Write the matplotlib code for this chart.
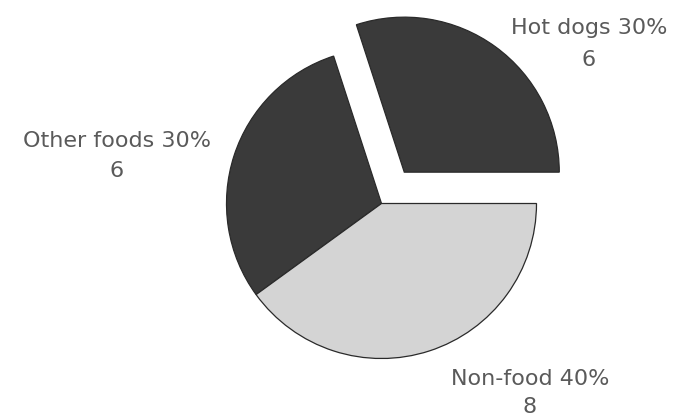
import matplotlib.pyplot as plt

# data
labels = ["Hot dogs", "Other foods", "Non-food"]
counts = [6, 6, 8]
percents = [30, 30, 40]
colors = ["#3a3a3a", "#3a3a3a", "#d4d4d4"]
explode = [0.25, 0, 0]   # fraction of radius

W, H = 687, 416
fig = plt.figure(figsize=(W / 100, H / 100), dpi=100)
ax = fig.add_axes([0, 0, 1, 1])

# pie in pixel-like coordinates (y measured up from bottom)
cx, cy, r = 381.5, H - 203.5, 155
# pie() treats explode as an absolute offset, so scale by the radius
ax.pie(counts, colors=colors, explode=[e * r for e in explode],
       startangle=0, counterclock=True, center=(cx, cy), radius=r,
       frame=True, wedgeprops=dict(edgecolor="#2a2a2a", linewidth=0.9))
ax.set_xlim(0, W)
ax.set_ylim(0, H)
ax.set_aspect("equal")
ax.axis("off")

# label positions (pixel coords from top)
label_pos = [(589, 28, 60), (117, 141, 171), (530, 379, 407)]
txt = dict(ha="center", va="center", fontsize=16, color="#5a5a5a",
           family="DejaVu Sans")
for lab, pct, n, (x, y1, y2) in zip(labels, percents, counts, label_pos):
    ax.text(x, H - y1, f"{lab} {pct}%", **txt)
    ax.text(x, H - y2, str(n), **txt)

fig.savefig("out.png", dpi=100)
